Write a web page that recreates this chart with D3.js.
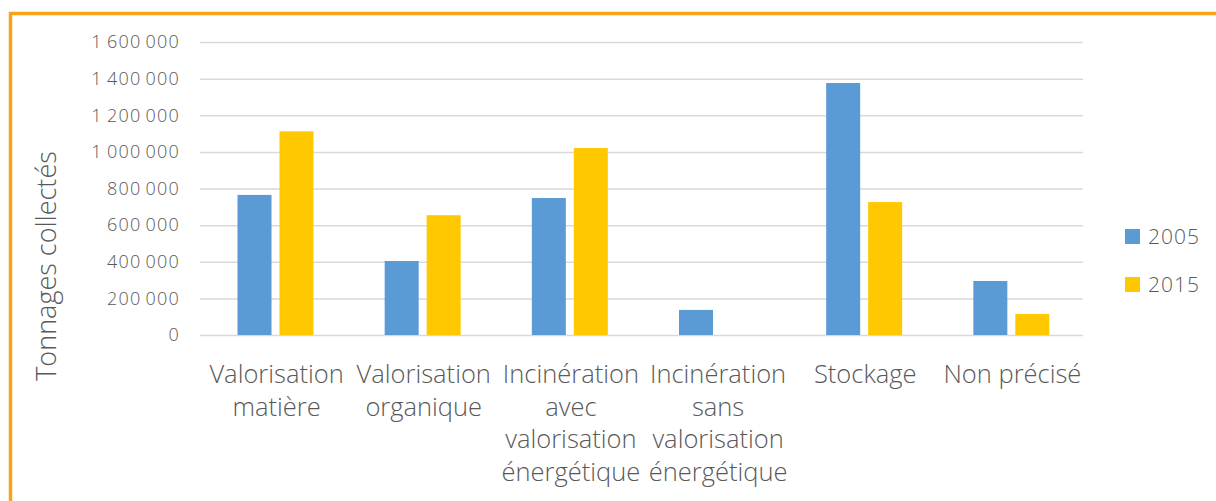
<!DOCTYPE html>
<html><head><meta charset="utf-8">
<script src="https://cdn.jsdelivr.net/npm/d3@7"></script>
<style>body{margin:0;background:#fff}svg{display:block}</style>
</head><body>
<svg id="c" width="1216" height="501"></svg>
<script>
const categories = ["Valorisation matière","Valorisation organique","Incinération avec valorisation énergétique","Incinération sans valorisation énergétique","Stockage","Non précisé"];
const categoryLines = [["Valorisation","matière"],["Valorisation","organique"],["Incinération","avec","valorisation","énergétique"],["Incinération","sans","valorisation","énergétique"],["Stockage"],["Non précisé"]];
const years = ["2005","2015"];
const values2005 = [765000, 404000, 748000, 137000, 1376000, 295000];
const values2015 = [1112000, 654000, 1021000, 0, 726000, 115000];
const yTicks = [0,200000,400000,600000,800000,1000000,1200000,1400000,1600000];
const yTitle = "Tonnages collectés";
const colors = {"2005":"#5B9BD5","2015":"#FFC800"};

const svg = d3.select("#c");
const L=200, R=1083, T=42, B=335;
const x = d3.scaleBand().domain(categories).range([L,R]);
const x1 = d3.scaleBand().domain(years).range([37.5,113.5]).paddingInner(0.19);
const y = d3.scaleLinear().domain([0,1600000]).range([B,T]);
const fmt = v => d3.format(",")(v).replace(/,/g,"\u2009");
const FF = "'Open Sans',sans-serif";

// border
svg.append("path").attr("d",`M10.5,501 V13.5 H1216`).attr("fill","none").attr("stroke","#F8A31C").attr("stroke-width",3.5);

// grid
const ya = d3.axisLeft(y).tickValues(yTicks).tickSize(-(R-L)).tickPadding(20).tickFormat(fmt);
const g = svg.append("g").attr("transform",`translate(${L},0)`).call(ya);
g.select(".domain").remove();
g.selectAll(".tick line").attr("stroke","#D9D9D9").attr("stroke-width",1.5).attr("x1",0);
g.selectAll(".tick text").attr("fill","#595959").style("font-family",FF).style("font-size","18px")
  .style("font-weight",300).style("letter-spacing","1.2px");

const series = years.map(yr => ({year: yr, values: yr==="2005"?values2005:values2015}));
series.forEach(s => {
  svg.append("g").selectAll("rect").data(categories.map((c,i)=>({c, v:s.values[i]}))).join("rect")
    .attr("x", d => x(d.c)+x1(s.year)).attr("width", x1.bandwidth())
    .attr("y", d => y(d.v)).attr("height", d => B - y(d.v))
    .attr("fill", colors[s.year]);
});

// category labels
const lab = svg.append("g");
categories.forEach((c,i) => {
  const cx = x(c)+x.bandwidth()/2+3;
  const t = lab.append("text").attr("x", cx).attr("y", 383)
    .attr("text-anchor","middle").attr("fill","#595959")
    .style("font-family",FF).style("font-size","25.5px").style("font-weight",330);
  categoryLines[i].forEach((ln,j)=> t.append("tspan").attr("x", cx).attr("dy", j===0?0:32.5).text(ln));
});

// y title
svg.append("text").attr("transform","translate(56,266) rotate(-90)").attr("text-anchor","middle")
  .attr("fill","#595959").style("font-family",FF).style("font-size","27px").style("font-weight",300).text(yTitle);

// legend
years.forEach((yr,i)=>{
  svg.append("rect").attr("x",1125).attr("y",229+i*48).attr("width",15).attr("height",15).attr("fill",colors[yr]);
  svg.append("text").attr("x",1148).attr("y",244+i*48).attr("fill","#595959")
    .style("font-family",FF).style("font-size","21px").style("font-weight",300).style("letter-spacing","1px").text(yr);
});
</script>
</body></html>
